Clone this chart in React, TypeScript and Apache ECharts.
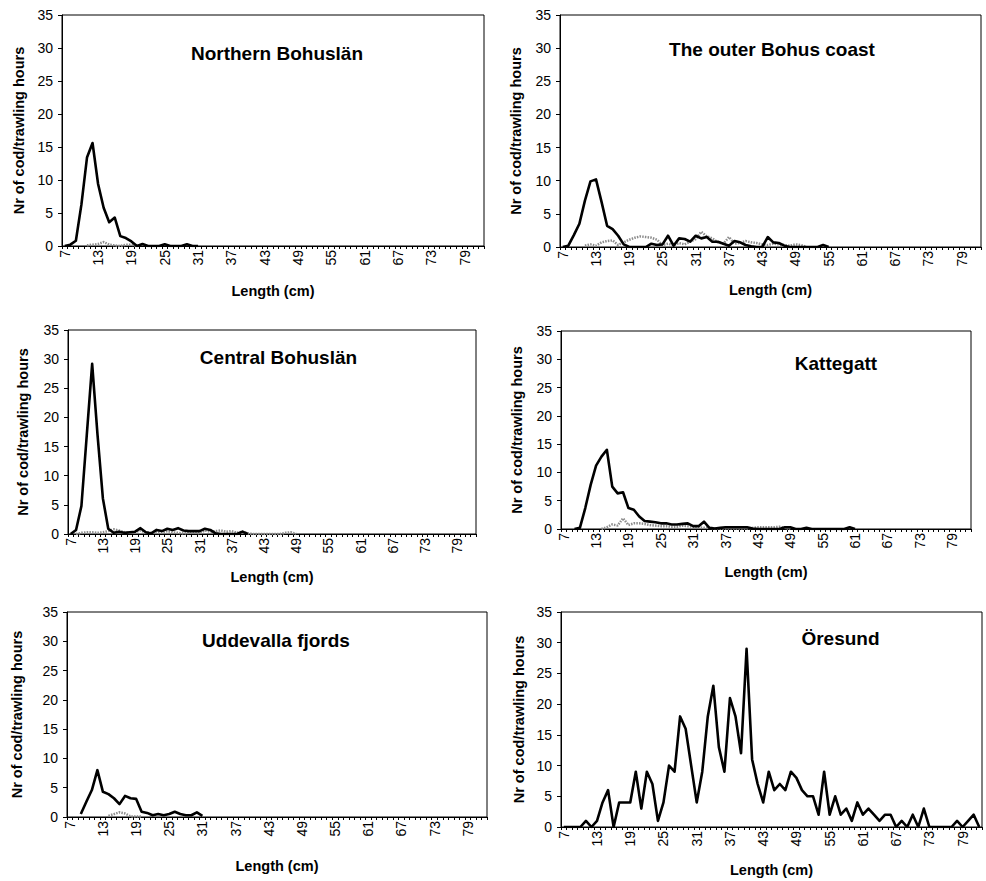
import React, { useEffect, useRef } from "react";
import * as echarts from "echarts";

// Length classes (cm)
const lengths = [
  "7", "8", "9", "10", "11", "12", "13", "14", "15", "16", "17", "18", "19", "20", "21", "22", "23", "24", "25",
  "26", "27", "28", "29", "30", "31", "32", "33", "34", "35", "36", "37", "38", "39", "40", "41", "42", "43", "44",
  "45", "46", "47", "48", "49", "50", "51", "52", "53", "54", "55", "56", "57", "58", "59", "60", "61", "62", "63",
  "64", "65", "66", "67", "68", "69", "70", "71", "72", "73", "74", "75", "76", "77", "78", "79", "80", "81", "82",
];

// Black series (one value per length class starting at 7 cm)
const northernBohuslan = [0, 0.2, 0.8, 6.3, 13.4, 15.6, 9.4, 5.8, 3.6, 4.3, 1.5, 1.2, 0.7, 0, 0.3, 0, 0, 0, 0.25, 0, 0, 0, 0.25, 0, 0];
const northernBohuslanGrey = [null, null, null, null, 0.1, 0.2, 0.3, 0.6, 0.2, 0.1, 0, 0.2, 0.2, 0];

const outerBohusCoast = [0, 0.2, 1.8, 3.5, 7, 9.9, 10.2, 6.8, 3.2, 2.7, 1.7, 0.4, 0, 0, 0, 0, 0.5, 0.3, 0.4, 1.7, 0.2, 1.3, 1.2, 0.8, 1.7, 1.3, 1.5, 0.8, 0.8, 0.5, 0.2, 0.9, 0.7, 0.3, 0.1, 0, 0, 1.5, 0.7, 0.6, 0.2, 0, 0, 0, 0, 0, 0, 0.3, 0];
const outerBohusCoastGrey = [null, null, null, null, 0.2, 0.4, 0.2, 0.7, 0.9, 1.0, 0.3, 0.7, 1.1, 1.4, 1.6, 1.5, 1.4, 1.1, 0.3, 0.5, 0.3, 0.6, 0.4, 0.8, 1.2, 2.3, 1.6, 1.3, 0.7, 0.5, 1.5, 0.5, 0.6, 0.9, 0.7, 0.6, 0.4, 0.3, 0.5, 0.4, 0.3, 0.2, 0.4, 0.3, 0];

const centralBohuslan = [0, 0.7, 4.8, 17, 29.2, 17, 6.1, 0.9, 0.2, 0.4, 0.2, 0.3, 0.4, 1.0, 0.3, 0.1, 0.7, 0.5, 0.9, 0.7, 1.0, 0.6, 0.5, 0.5, 0.5, 0.9, 0.7, 0.1, 0, 0, 0, 0, 0.4, 0];
const centralBohuslanGrey = [null, 0, 0.2, 0.3, 0.3, 0.2, 0.3, 0.5, 0.8, 0.6, 0.3, 0.2, 0.3, 0.6, 0.3, 0.2, 0.3, 0.2, 0.5, 0.3, 0.2, 0.1, 0.2, 0.3, 0.1, 0.6, 0.4, 0.5, 0.6, 0.4, 0.5, 0.2, 0.4, 0.1, 0, 0, 0, 0, 0, 0, 0.2, 0.3, 0];

const kattegatt = [null, null, 0, 0.2, 3.7, 7.8, 11.2, 12.8, 14.0, 7.5, 6.3, 6.5, 3.7, 3.4, 2.2, 1.4, 1.3, 1.2, 1.0, 1.0, 0.8, 0.8, 0.9, 1.0, 0.5, 0.5, 1.3, 0.2, 0.1, 0.2, 0.3, 0.3, 0.3, 0.3, 0.3, 0.1, 0, 0, 0, 0, 0, 0.3, 0.3, 0, 0, 0.2, 0, 0, 0, 0, 0, 0, 0, 0.3, 0];
const kattegattGrey = [null, null, null, null, null, null, null, 0, 0.3, 0.8, 0.6, 1.9, 0.7, 1.0, 1.0, 0.9, 0.7, 0.6, 0.5, 0.5, 0.4, 0.4, 0.6, 0.5, 0.4, 0.3, 0.2, 0.2, 0.1, 0.1, 0.1, 0.1, 0.1, 0.1, 0.1, 0.2, 0.3, 0.3, 0.3, 0.3, 0.4, 0.2, 0];

const uddevallaFjords = [null, null, 0.5, 2.6, 4.6, 8.0, 4.3, 3.9, 3.2, 2.2, 3.6, 3.2, 3.1, 0.9, 0.7, 0.3, 0.5, 0.3, 0.5, 0.9, 0.5, 0.3, 0.3, 0.8, 0.2];
const uddevallaFjordsGrey = [null, null, null, null, null, null, null, 0.2, 0.5, 0.8, 0.6, 0.1, 0.1, 0.1];

const oresund = [0, 0, 0, 0, 1, 0, 1, 4, 6, 0, 4, 4, 4, 9, 3, 9, 7, 1, 4, 10, 9, 18, 16, 10, 4, 9, 18, 23, 13, 9, 21, 18, 12, 29, 11, 7, 4, 9, 6, 7, 6, 9, 8, 6, 5, 5, 2, 9, 2, 5, 2, 3, 1, 4, 2, 3, 2, 1, 2, 2, 0, 1, 0, 2, 0, 3, 0, 0, 0, 0, 0, 1, 0, 1, 2, 0];

const yAxisTitle = "Nr of cod/trawling hours";
const xAxisTitle = "Length (cm)";

const FONT = '"Liberation Sans", Arial, Helvetica, sans-serif';

const panels = [
  { title: "Northern Bohuslän", black: northernBohuslan, grey: northernBohuslanGrey, grid: { left: 62, top: 15, width: 422, height: 231 }, titleX: 277, titleY: 53, yGap: 36, xGap: 37 },
  { title: "The outer Bohus coast", black: outerBohusCoast, grey: outerBohusCoastGrey, grid: { left: 560, top: 15, width: 421, height: 232 }, titleX: 772, titleY: 49, yGap: 37, xGap: 35 },
  { title: "Central Bohuslän", black: centralBohuslan, grey: centralBohuslanGrey, grid: { left: 68, top: 330, width: 408, height: 204 }, titleX: 278.5, titleY: 357.5, yGap: 37.5, xGap: 35.5 },
  { title: "Kattegatt", black: kattegatt, grey: kattegattGrey, grid: { left: 561, top: 331, width: 410, height: 198 }, titleX: 836, titleY: 363, yGap: 37, xGap: 35.5 },
  { title: "Uddevalla fjords", black: uddevallaFjords, grey: uddevallaFjordsGrey, grid: { left: 67, top: 612, width: 420, height: 205 }, titleX: 276, titleY: 640.5, yGap: 43, xGap: 41 },
  { title: "Öresund", black: oresund, grey: null, grid: { left: 561, top: 612, width: 421, height: 215 }, titleX: 840.5, titleY: 638.7, yGap: 35, xGap: 35 },
];

export default function App() {
  const ref = useRef<HTMLDivElement>(null);

  useEffect(() => {
    if (!ref.current) return;
    const chart = echarts.init(ref.current, null, { renderer: "svg" });

    const grid: any[] = [];
    const xAxis: any[] = [];
    const yAxis: any[] = [];
    const series: any[] = [];
    const graphic: any[] = [];

    panels.forEach((p, i) => {
      grid.push({
        ...p.grid,
        show: true,
        borderColor: "#000",
        borderWidth: 1,
        backgroundColor: "#fff",
        containLabel: false,
      });
      xAxis.push({
        type: "category",
        gridIndex: i,
        data: lengths,
        boundaryGap: true,
        name: xAxisTitle,
        nameLocation: "middle",
        nameGap: p.xGap,
        nameTextStyle: { color: "#000", fontSize: 14.5, fontWeight: "bold", fontFamily: FONT },
        axisLine: { show: true, lineStyle: { color: "#000", width: 1 } },
        axisTick: { show: true, interval: 0, length: 3, alignWithLabel: false, lineStyle: { color: "#000", width: 1 } },
        axisLabel: { interval: 5, rotate: 90, margin: 4, color: "#000", fontSize: 14, fontFamily: FONT },
        splitLine: { show: false },
      });
      yAxis.push({
        type: "value",
        gridIndex: i,
        min: 0,
        max: 35,
        interval: 5,
        name: yAxisTitle,
        nameLocation: "middle",
        nameRotate: 90,
        nameGap: p.yGap,
        nameTextStyle: { color: "#000", fontSize: 14.5, fontWeight: "bold", fontFamily: FONT },
        axisLine: { show: true, lineStyle: { color: "#000", width: 1 } },
        axisTick: { show: true, length: 4, lineStyle: { color: "#000", width: 1 } },
        axisLabel: { margin: 9, color: "#000", fontSize: 14, fontFamily: FONT },
        splitLine: { show: false },
      });
      if (p.grey) {
        series.push({
          type: "line",
          xAxisIndex: i,
          yAxisIndex: i,
          data: p.grey,
          showSymbol: false,
          symbol: "none",
          connectNulls: false,
          lineStyle: { color: "#8c8c8c", width: 2.5, type: [1.5, 1.2] },
          z: 2,
        });
      }
      series.push({
        type: "line",
        xAxisIndex: i,
        yAxisIndex: i,
        data: p.black,
        showSymbol: false,
        symbol: "none",
        connectNulls: false,
        lineStyle: { color: "#000", width: 2.6, join: "round" },
        z: 3,
      });
      graphic.push({
        type: "text",
        x: p.titleX,
        y: p.titleY,
        silent: true,
        z: 10,
        style: {
          text: p.title,
          fill: "#000",
          fontSize: 19,
          fontWeight: "bold",
          fontFamily: FONT,
          align: "center",
          verticalAlign: "middle",
          textAlign: "center",
          textVerticalAlign: "middle",
        },
      });
    });

    chart.setOption({
      animation: false,
      backgroundColor: "#fff",
      grid,
      xAxis,
      yAxis,
      series,
      graphic,
    });

    return () => {
      chart.dispose();
    };
  }, []);

  return (
    <div
      ref={ref}
      style={{ position: "absolute", left: 0, top: 0, width: 986, height: 881, background: "#fff" }}
    />
  );
}
